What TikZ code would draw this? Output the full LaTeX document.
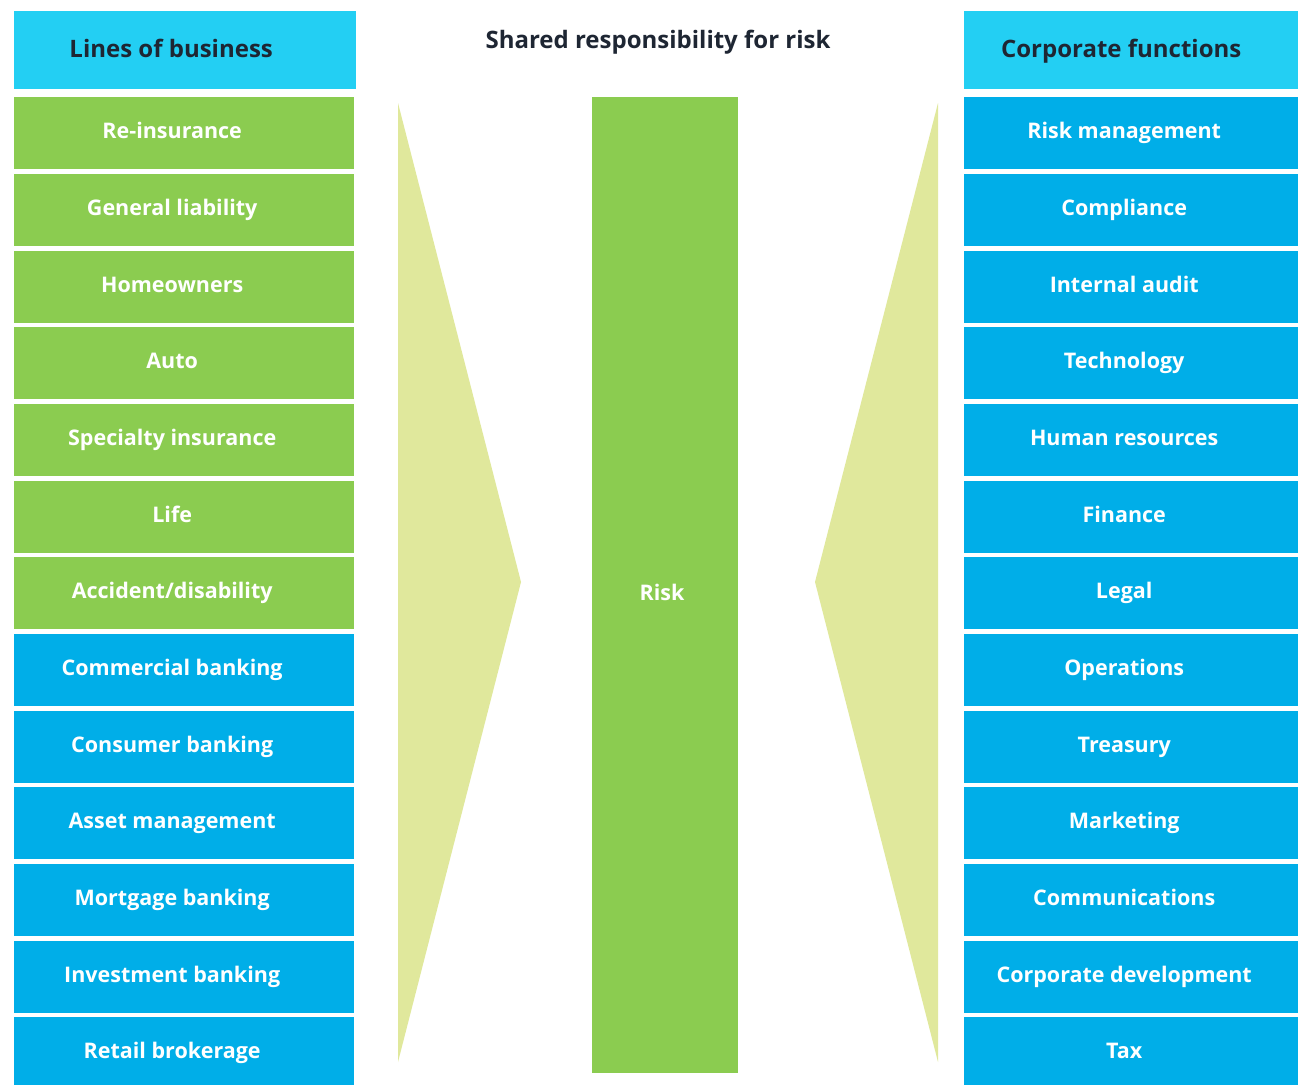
\documentclass[tikz,border=0pt]{standalone}
\usepackage{fontspec}
\setmainfont{Open Sans}
\definecolor{hdrcyan}{HTML}{23CFF3}
\definecolor{lobgreen}{HTML}{8BCC50}
\definecolor{fnblue}{HTML}{00AEE8}
\definecolor{trifill}{HTML}{E0E89C}
\definecolor{hdrtext}{HTML}{1E2633}
\begin{document}
\begin{tikzpicture}[x=1pt,y=-1pt,
  box/.style={rectangle, minimum width=340pt, minimum height=72pt, inner sep=0pt, anchor=north west},
  gbox/.style={box, fill=lobgreen},
  bbox/.style={box, fill=fnblue},
  hbox/.style={box, fill=hdrcyan, minimum width=342pt, minimum height=78pt},
  wtxt/.style={text=white, font=\bfseries\fontsize{21.5}{25}\selectfont, inner sep=0pt, anchor=base},
  htxt/.style={text=hdrtext, font=\bfseries\fontsize{24}{28}\selectfont, inner sep=0pt, anchor=base},
]
\useasboundingbox (0,0) rectangle (1298,1084);
\fill[white] (0,0) rectangle (1298,1084);

% headers
\node[hbox] (lh) at (14,11) {};
\node[htxt] (lht) at ([xshift=-14pt,yshift=-6.8pt]lh.center) {Lines of business};
\node[hbox] (rh) at (964,11) {};
\node[htxt] (rht) at ([xshift=-14pt,yshift=-6.8pt]rh.center) {Corporate functions};
\node[htxt] (title) at (658,48.5) {Shared responsibility for risk};

% triangles
\fill[trifill] (398,103) -- (521,582) -- (398,1062) -- cycle;
\fill[trifill] (938,103) -- (815,582) -- (938,1062) -- cycle;

% centre bar
\node[rectangle, fill=lobgreen, minimum width=146pt, minimum height=976pt, inner sep=0pt, anchor=north west] (risk) at (592,97) {};
\node[wtxt] (riskt) at (662,600.7) {Risk};

% left column
\foreach \i/\t/\s in {0/Re-insurance/gbox,1/General liability/gbox,2/Homeowners/gbox,3/Auto/gbox,4/Specialty insurance/gbox,5/Life/gbox,6/Accident\slash disability/gbox,7/Commercial banking/bbox,8/Consumer banking/bbox,9/Asset management/bbox,10/Mortgage banking/bbox,11/Investment banking/bbox,12/Retail brokerage/bbox}{
  \node[\s] (l\i) at (14,{97+76.67*\i}) {};
  \node[wtxt] (lt\i) at ([xshift=-12pt,yshift=-5.5pt]l\i.center) {\t};
}
% right column
\foreach \i/\t in {0/Risk management,1/Compliance,2/Internal audit,3/Technology,4/Human resources,5/Finance,6/Legal,7/Operations,8/Treasury,9/Marketing,10/Communications,11/Corporate development,12/Tax}{
  \node[bbox, minimum width=344pt] (r\i) at (964,{97+76.67*\i}) {};
  \node[wtxt] (rt\i) at ([xshift=-12pt,yshift=-5.5pt]r\i.center) {\t};
}
\end{tikzpicture}
\end{document}
